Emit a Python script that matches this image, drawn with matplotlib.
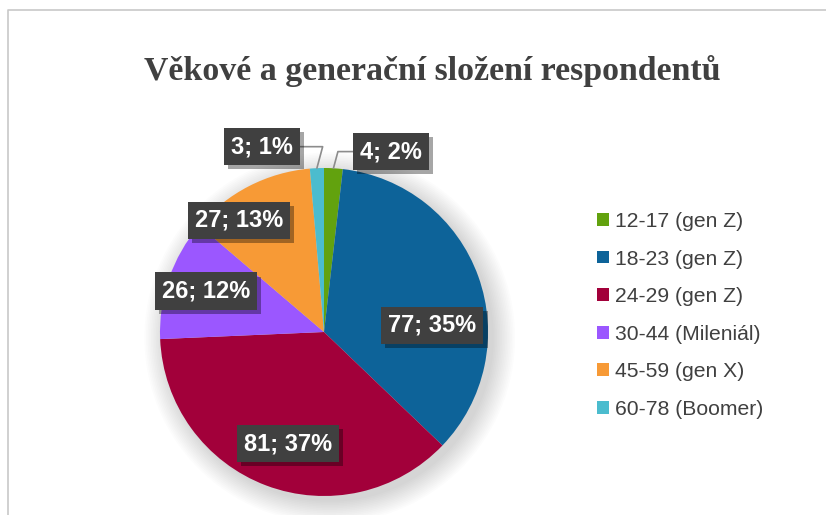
import matplotlib.pyplot as plt
import matplotlib.patheffects as pe
from matplotlib.patches import Patch, Circle
from matplotlib.lines import Line2D
import numpy as np

# data
categories = ['12-17 (gen Z)', '18-23 (gen Z)', '24-29 (gen Z)',
              '30-44 (Mileniál)', '45-59 (gen X)', '60-78 (Boomer)']
counts = [4, 77, 81, 26, 27, 3]
percents = [2, 35, 37, 12, 13, 1]   # as printed in the chart labels
colors = ['#62A20E', '#0D6399', '#A2003A', '#9B57FF', '#F79A36', '#4BBCCE']
title = 'Věkové a generační složení respondentů'

# label box positions (pie radius = 1), as Excel placed them
label_pos = [(0.41, 1.10), (0.66, 0.04), (-0.22, -0.68),
             (-0.72, 0.25), (-0.52, 0.68), (-0.38, 1.13)]
leader = [True, False, False, False, False, True]

fig = plt.figure(figsize=(8.26, 5.15), dpi=100)
fig.patch.set_facecolor('white')

# chart border (top and left visible)
x0, y0 = 8 / 826, 1 - 10 / 515
fig.add_artist(Line2D([x0, x0, 1.0], [0.0, y0, y0], transform=fig.transFigure,
                      color='#c8c8c8', lw=1.2))

fig.text(0.5236, 0.862, title, ha='center', va='center',
         family='Liberation Serif', fontweight='bold', fontsize=24.4, color='#404040')

ax = fig.add_axes([160 / 826, 19 / 515, 328 / 826, 328 / 515])

# soft shadow behind the pie
for i in range(14):
    ax.add_patch(Circle((0.035, -0.035), 1.0 + 0.01 * i, color='#808080',
                        alpha=0.022, lw=0, zorder=0, clip_on=False))

wedges, _ = ax.pie(counts, colors=colors, startangle=90, counterclock=False,
                   radius=1.0, wedgeprops=dict(lw=0))
for w in wedges:
    w.set_zorder(2)

for w, n, p, (lx, ly), ld in zip(wedges, counts, percents, label_pos, leader):
    txt = f'{n}; {p}%'
    ang = np.deg2rad((w.theta1 + w.theta2) / 2)
    kw = {}
    if ld:
        kw['xy'] = (np.cos(ang), np.sin(ang))
        kw['arrowprops'] = dict(arrowstyle='-', color='#8c8c8c', lw=1.2,
                                shrinkA=0, shrinkB=0,
                                connectionstyle='angle,angleA=0,angleB=75,rad=0')
    else:
        kw['xy'] = (lx, ly)
    t = ax.annotate(txt, xytext=(lx, ly), ha='center', va='center',
                    family='Liberation Sans', fontweight='bold', fontsize=17,
                    color='white', zorder=5,
                    bbox=dict(boxstyle='square,pad=0.3', fc='#404040', ec='none'),
                    **kw)
    t.get_bbox_patch().set_path_effects([
        pe.SimplePatchShadow(offset=(3, -3), shadow_rgbFace='black', alpha=0.35),
        pe.Normal()])

ax.set_xlim(-1, 1)
ax.set_ylim(-1, 1)
ax.set_aspect('equal')
ax.axis('off')

handles = [Patch(facecolor=c, edgecolor='none') for c in colors]
fig.legend(handles, categories, loc='upper left',
           bbox_to_anchor=(578 / 826, 1 - 193 / 515),
           frameon=False, handlelength=0.55, handleheight=0.55, handletextpad=0.3,
           labelspacing=0.88, prop=dict(family='Liberation Sans', size=15.2),
           labelcolor='#404040')

fig.savefig('out.png', dpi=100)
